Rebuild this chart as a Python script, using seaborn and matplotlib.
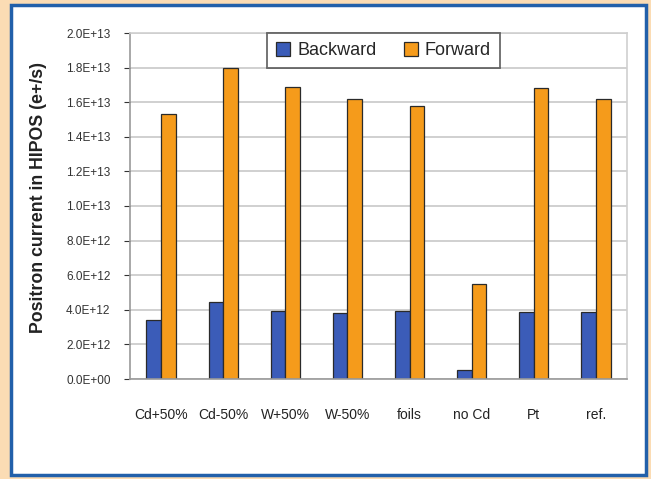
import matplotlib
matplotlib.use("Agg")
import matplotlib.pyplot as plt
import matplotlib.patches as mpatches
from matplotlib.ticker import FuncFormatter, MultipleLocator
import seaborn as sns
import pandas as pd

categories = ["Cd+50%", "Cd-50%", "W+50%", "W-50%", "foils", "no Cd", "Pt", "ref."]
backward = [3.4e12, 4.45e12, 3.95e12, 3.8e12, 3.95e12, 0.52e12, 3.9e12, 3.9e12]
forward = [15.3e12, 18.0e12, 16.9e12, 16.2e12, 15.8e12, 5.5e12, 16.8e12, 16.2e12]
series = ["Backward", "Forward"]
ylabel = "Positron current in HIPOS (e+/s)"

df = pd.DataFrame({
    "cat": categories * 2,
    "series": [series[0]] * len(categories) + [series[1]] * len(categories),
    "value": backward + forward,
})

sns.set_theme(style="white")
plt.rcParams["font.family"] = ["Liberation Sans", "DejaVu Sans"]

W, H = 651, 479
fig = plt.figure(figsize=(W / 100, H / 100), dpi=100)
fig.patch.set_facecolor("#FBDCB4")

# white panel with blue frame
panel = mpatches.Rectangle((11 / W, 4 / H), (646 - 11) / W, (474 - 4) / H,
                           transform=fig.transFigure, facecolor="white",
                           edgecolor="#2260AA", linewidth=2.5, zorder=-10)
fig.patches.append(panel)

ax = fig.add_axes([130 / W, (H - 379) / H, (627 - 130) / W, (379 - 33) / H])
ax.set_facecolor("white")

palette = {"Backward": "#3B5CB8", "Forward": "#F59B1B"}
sns.barplot(data=df, x="cat", y="value", hue="series", order=categories,
            hue_order=series, palette=palette, width=0.47, ax=ax,
            edgecolor="#2a2a2a", linewidth=0.9, saturation=1)

ax.set_ylim(0, 2.0e13)
ax.yaxis.set_major_locator(MultipleLocator(2e12))

def fmt(v, pos):
    return "%.1E" % v

ax.yaxis.set_major_formatter(FuncFormatter(fmt))
ax.grid(axis="y", color="#c8c8c8", linewidth=1.2)
ax.set_axisbelow(True)
for side in ["top", "right"]:
    ax.spines[side].set_color("#cfcfcf")
    ax.spines[side].set_linewidth(1.2)
for side in ["left", "bottom"]:
    ax.spines[side].set_color("#9a9a9a")
    ax.spines[side].set_linewidth(1.2)

ax.tick_params(axis="y", labelsize=8.5, colors="#333333", length=4, width=0.8,
               direction="out", left=True, pad=10)
ax.tick_params(axis="x", labelsize=10, colors="#222222", length=0, pad=21)
ax.set_xlabel("")
ax.set_ylabel(ylabel, fontsize=12.8, fontweight="bold", color="#222222")
ax.yaxis.set_label_coords(-0.167, 0.526)

leg = ax.legend(loc="upper center", bbox_to_anchor=(0.51, 1.0), ncol=2,
                fontsize=13, frameon=True, fancybox=False, edgecolor="#444444",
                handlelength=0.78, handleheight=0.78, columnspacing=1.5,
                borderpad=0.5, handletextpad=0.4, borderaxespad=0)
leg.get_frame().set_linewidth(1.3)

fig.savefig("out.png", dpi=100, facecolor=fig.get_facecolor())
